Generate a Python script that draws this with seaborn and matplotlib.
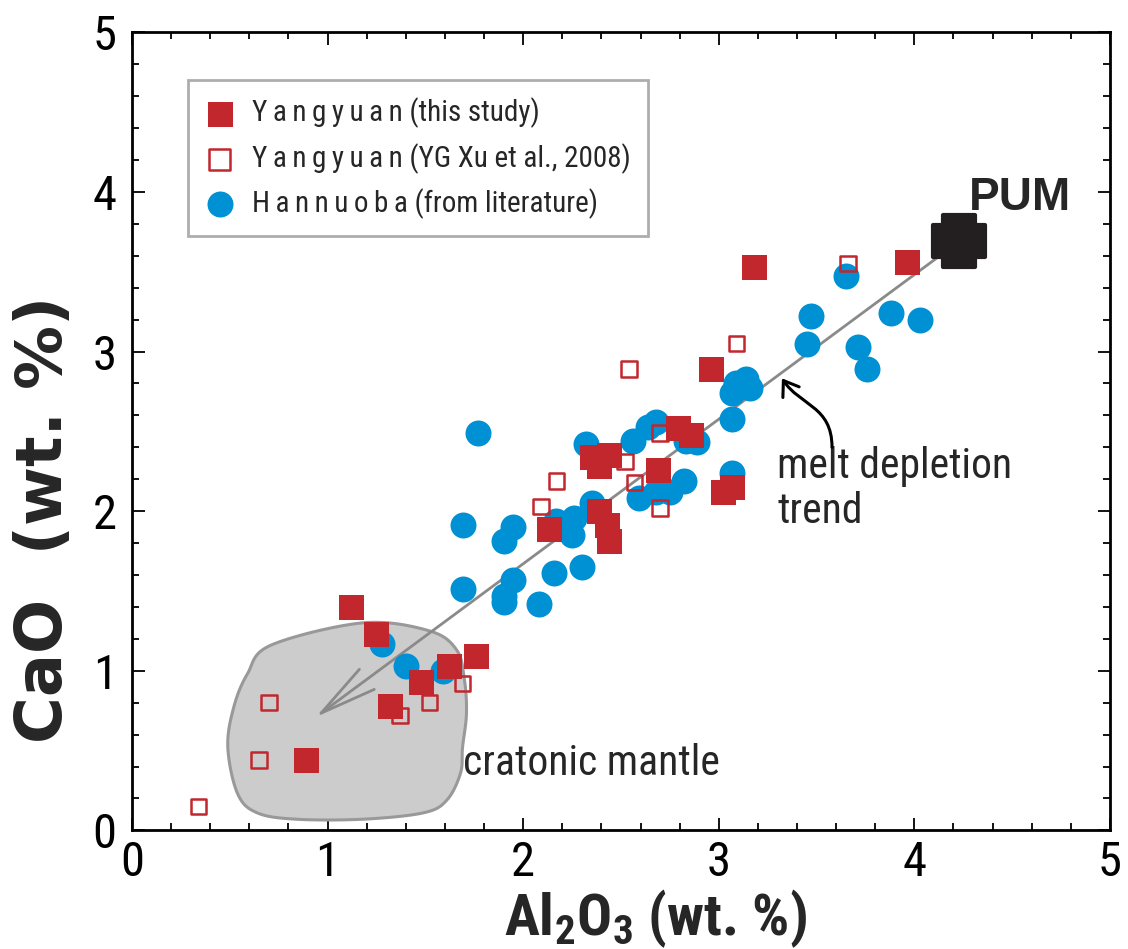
import numpy as np
import pandas as pd
import matplotlib.pyplot as plt
import seaborn as sns
from matplotlib.path import Path
from matplotlib.patches import FancyArrowPatch
from matplotlib.ticker import MultipleLocator

sns.set_style("ticks")
plt.rcParams['font.family'] = ['Liberation Sans Narrow', 'Roboto Condensed', 'Noto Sans',
                               'Liberation Sans', 'DejaVu Sans']
plt.rcParams['font.stretch'] = 'condensed'
plt.rcParams['mathtext.default'] = 'regular'

RED = '#c1272d'
BLUE = '#0090d4'
TS = '\u2009'  # thin space, the legend names are letter-spaced

# Yangyuan (this study)
yy_al = [3.18, 3.96, 2.96, 2.79, 2.86, 2.35, 2.44, 2.39, 2.69, 2.13, 2.39,
         2.43, 2.44, 3.02, 3.07, 1.12, 1.25, 1.48, 1.62, 1.76, 1.32, 0.89]
yy_ca = [3.53, 3.56, 2.89, 2.52, 2.48, 2.34, 2.35, 2.28, 2.26, 1.89, 2.00,
         1.91, 1.81, 2.12, 2.15, 1.40, 1.23, 0.93, 1.03, 1.09, 0.78, 0.44]

# Yangyuan (YG Xu et al., 2008)
xu_al = [3.66, 3.09, 2.54, 2.70, 2.52, 2.57, 2.17, 2.09, 2.70, 1.69, 1.52,
         1.37, 0.70, 0.65, 0.34]
xu_ca = [3.55, 3.05, 2.89, 2.49, 2.31, 2.18, 2.19, 2.03, 2.02, 0.92, 0.80,
         0.72, 0.80, 0.44, 0.15]

# Hannuoba (from literature)
hn_al = [1.77, 1.69, 1.95, 1.90, 1.69, 1.95, 1.90, 1.90, 2.08, 2.16, 2.30,
         2.17, 2.26, 2.25, 2.35, 2.32, 2.56, 2.64, 2.68, 2.83, 2.89, 2.59,
         2.68, 2.75, 2.82, 3.07, 3.09, 3.14, 3.07, 3.16, 3.07, 3.65, 3.47,
         3.45, 3.88, 4.03, 3.71, 3.76, 1.28, 1.40, 1.59]
hn_ca = [2.49, 1.91, 1.90, 1.81, 1.51, 1.57, 1.47, 1.43, 1.42, 1.61, 1.65,
         1.94, 1.96, 1.85, 2.05, 2.42, 2.44, 2.53, 2.56, 2.44, 2.43, 2.08,
         2.12, 2.12, 2.19, 2.58, 2.80, 2.83, 2.74, 2.77, 2.24, 3.47, 3.22,
         3.05, 3.24, 3.20, 3.03, 2.89, 1.17, 1.03, 1.00]

# primitive upper mantle
pum_al = 4.23
pum_ca = 3.69
trend_end = (0.94, 0.71)

# outline of the cratonic mantle field
craton_al = [0.71, 1.18, 1.52, 1.66, 1.70, 1.71, 1.69, 1.68, 1.61, 1.49,
             1.18, 0.84, 0.64, 0.54, 0.49, 0.52, 0.59]
craton_ca = [1.16, 1.30, 1.25, 1.13, 0.94, 0.73, 0.52, 0.36, 0.19, 0.11,
             0.07, 0.07, 0.11, 0.23, 0.52, 0.77, 0.98]


def closed_spline(xs, ys, n=24):
    # Catmull-Rom through the outline points
    p = np.column_stack([xs, ys])
    k = len(p)
    t = np.linspace(0, 1, n, endpoint=False)[:, None]
    segs = []
    for i in range(k):
        p0, p1, p2, p3 = p[i - 1], p[i], p[(i + 1) % k], p[(i + 2) % k]
        segs.append(0.5 * (2 * p1 + (-p0 + p2) * t
                           + (2 * p0 - 5 * p1 + 4 * p2 - p3) * t ** 2
                           + (-p0 + 3 * p1 - 3 * p2 + p3) * t ** 3))
    return np.vstack(segs)


def spaced(word):
    return TS.join(word)


fig = plt.figure(figsize=(11.28, 9.49), dpi=100)
ax = fig.add_axes([0.117, 0.125, 0.867, 0.841])

outline = closed_spline(craton_al, craton_ca)
ax.fill(outline[:, 0], outline[:, 1], facecolor='#cccccc', edgecolor='#999999',
        linewidth=2.2, zorder=1)

# melt depletion trend
ax.annotate('', xy=trend_end, xytext=(pum_al, pum_ca),
            arrowprops=dict(arrowstyle='->,head_length=2.05,head_width=0.45',
                            color='#8a8a8a', lw=2, mutation_scale=20,
                            shrinkA=0, shrinkB=0),
            zorder=2)

df_hn = pd.DataFrame({'Al2O3': hn_al, 'CaO': hn_ca})
df_xu = pd.DataFrame({'Al2O3': xu_al, 'CaO': xu_ca})
df_yy = pd.DataFrame({'Al2O3': yy_al, 'CaO': yy_ca})

sns.scatterplot(data=df_hn, x='Al2O3', y='CaO', ax=ax, marker='o', s=350,
                color=BLUE, linewidth=0, zorder=3,
                label=spaced('Hannuoba') + ' (from literature)')
sns.scatterplot(data=df_xu, x='Al2O3', y='CaO', ax=ax, marker='s', s=125,
                facecolors='none', edgecolor=RED, linewidth=1.8, zorder=4,
                label=spaced('Yangyuan') + ' (YG Xu et al., 2008)')
sns.scatterplot(data=df_yy, x='Al2O3', y='CaO', ax=ax, marker='s', s=324,
                color=RED, linewidth=0, zorder=5,
                label=spaced('Yangyuan') + ' (this study)')

h = 0.6
plus = Path([(-h, -1), (h, -1), (h, -h), (1, -h), (1, h), (h, h),
             (h, 1), (-h, 1), (-h, h), (-1, h), (-1, -h), (-h, -h),
             (-h, -1)], closed=True)
sns.scatterplot(x=[pum_al], y=[pum_ca], ax=ax, marker=plus, s=1400,
                color='#231f20', edgecolor='#231f20', linewidth=3, zorder=6)
ax.collections[-1].set_joinstyle('round')

ax.text(4.28, 3.885, 'PUM', fontsize=33, fontweight='bold', ha='left',
        va='baseline', family='Liberation Sans', fontstretch='normal')
ax.text(3.30, 2.41, 'melt depletion\ntrend', fontsize=30, ha='left', va='top',
        linespacing=1.15)
ax.text(1.69, 0.345, 'cratonic mantle', fontsize=30, ha='left', va='baseline')

# curved pointer from the label to the trend line
hook = Path([(3.579, 2.40), (3.579, 2.66), (3.415, 2.66), (3.323, 2.832)],
            [Path.MOVETO, Path.CURVE4, Path.CURVE4, Path.CURVE4])
ax.add_patch(FancyArrowPatch(path=hook, arrowstyle='->,head_length=0.5,head_width=0.35',
                             mutation_scale=20, color='black', lw=2.2, zorder=6))

handles, labels = ax.get_legend_handles_labels()
order = [2, 1, 0]
leg = ax.legend([handles[i] for i in order], [labels[i] for i in order],
                loc='upper left', bbox_to_anchor=(0.057, 0.94),
                borderaxespad=0, fontsize=21, frameon=True, fancybox=False,
                edgecolor='#999999', handlelength=1.0, handletextpad=0.6,
                labelspacing=0.5, borderpad=0.6)
leg.get_frame().set_linewidth(2)
leg.legend_handles[1].set_sizes([230])

ax.set_xlim(0, 5)
ax.set_ylim(0, 5)
ax.xaxis.set_major_locator(MultipleLocator(1))
ax.yaxis.set_major_locator(MultipleLocator(1))
ax.xaxis.set_minor_locator(MultipleLocator(0.2))
ax.yaxis.set_minor_locator(MultipleLocator(0.2))
ax.tick_params(which='both', direction='in', top=True, right=True,
               width=1.3, colors='black')
ax.tick_params(which='major', length=9, labelsize=35)
ax.tick_params(which='minor', length=5)
ax.tick_params(axis='x', pad=7)
ax.tick_params(axis='y', pad=11)
for side in ax.spines.values():
    side.set_linewidth(2)
    side.set_color('black')

ax.set_xlabel(r'Al$_2$O$_3$ (wt. %)', fontsize=42, fontweight='bold')
ax.xaxis.set_label_coords(0.535, -0.072)
ax.set_ylabel('CaO  (wt. %)', fontsize=46, fontweight='bold',
              family='DejaVu Sans', fontstretch='normal')
ax.yaxis.set_label_coords(-0.058, 0.39)

fig.savefig('out.png', dpi=100)
